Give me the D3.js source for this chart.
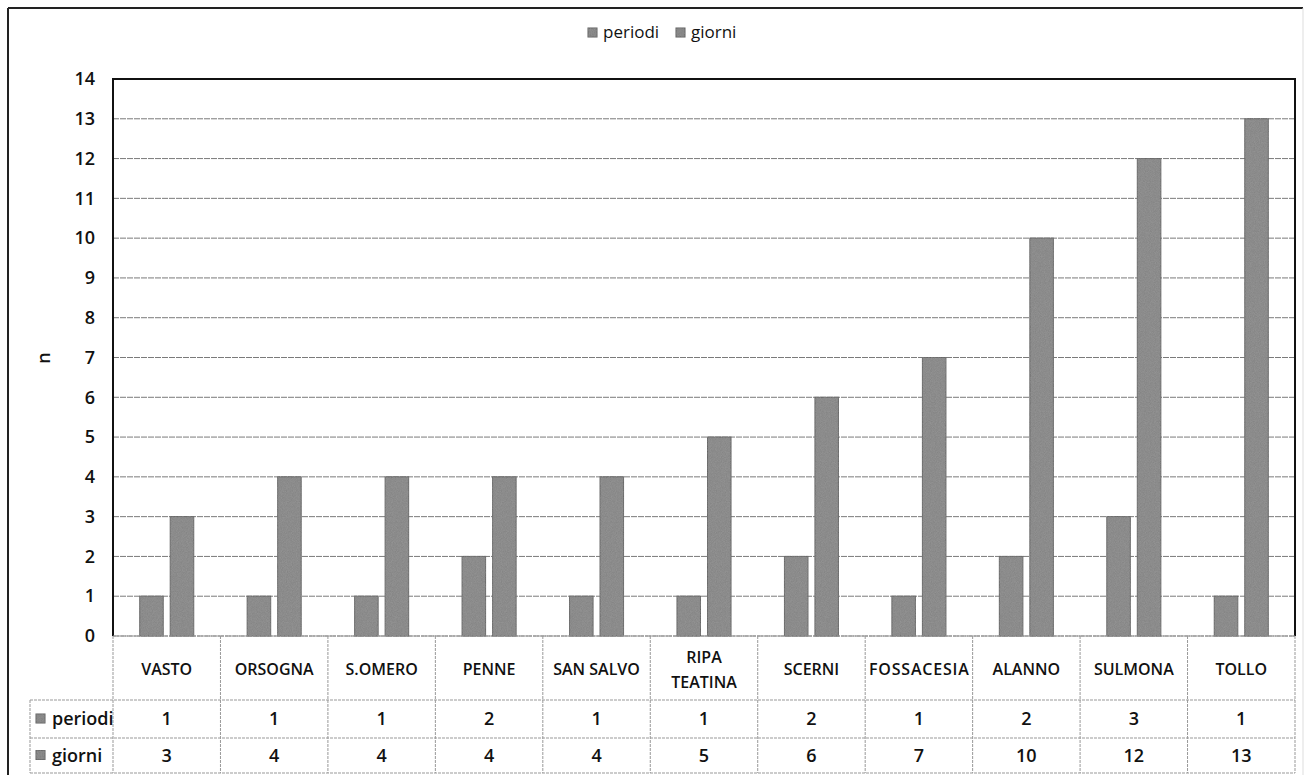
<!DOCTYPE html>
<html>
<head>
<meta charset="utf-8">
<script src="https://cdn.jsdelivr.net/npm/d3@7"></script>
<style>
  body { margin: 0; background: white; }
  text { font-family: "Open Sans", sans-serif; fill: #111; }
</style>
</head>
<body>
<div id="container"></div>
<script>
let w = 1306;
let h = 775;

// data
let categories = ["VASTO", "ORSOGNA", "S.OMERO", "PENNE", "SAN SALVO", "RIPA TEATINA", "SCERNI", "FOSSACESIA", "ALANNO", "SULMONA", "TOLLO"];
let periodi = [1, 1, 1, 2, 1, 1, 2, 1, 2, 3, 1];
let giorni = [3, 4, 4, 4, 4, 5, 6, 7, 10, 12, 13];
let seriesNames = ["periodi", "giorni"];
let yTicks = d3.range(0, 15);

let plotLeft = 113, plotRight = 1295, plotTop = 79, plotBottom = 636;
let rowCat = 700, rowP = 738, rowG = 773; // table row bottoms
let headerLeft = 30;

let viz = d3.select("#container")
  .append("svg")
    .attr("width", w)
    .attr("height", h)
    .style("background-color", "white");

// grainy texture for the scanned look
let defs = viz.append("defs");
let f = defs.append("filter").attr("id", "grain");
f.append("feTurbulence").attr("type", "fractalNoise").attr("baseFrequency", 1.2).attr("numOctaves", 1).attr("result", "noise");
f.append("feColorMatrix").attr("in", "noise").attr("type", "matrix")
  .attr("values", "0 0 0 0 0.45  0 0 0 0 0.45  0 0 0 0 0.45  0 0 0 0.4 0").attr("result", "n2");
f.append("feComposite").attr("in", "n2").attr("in2", "SourceGraphic").attr("operator", "in").attr("result", "n3");
f.append("feMerge").call(m => { m.append("feMergeNode").attr("in", "SourceGraphic"); m.append("feMergeNode").attr("in", "n3"); });

// outer frame
viz.append("line").attr("x1", 8).attr("y1", 8).attr("x2", 1303).attr("y2", 8).attr("stroke", "#222").attr("stroke-width", 2);
viz.append("line").attr("x1", 8).attr("y1", 8).attr("x2", 8).attr("y2", h).attr("stroke", "#222").attr("stroke-width", 2);
viz.append("line").attr("x1", 1303).attr("y1", 8).attr("x2", 1303).attr("y2", h).attr("stroke", "#ddd").attr("stroke-width", 1);

let x = d3.scaleBand().domain(categories).range([plotLeft, plotRight]);
let sub = d3.scaleBand().domain(seriesNames).range([-27, 27]).paddingInner(0.23);
let y = d3.scaleLinear().domain([0, 14]).range([plotBottom, plotTop]);

// gridlines
viz.append("g").selectAll("line")
  .data(yTicks.filter(d => d < 14))
  .enter().append("line")
    .attr("x1", plotLeft).attr("x2", plotRight)
    .attr("y1", d => y(d)).attr("y2", d => y(d))
    .attr("stroke", "#7a7a7a").attr("stroke-width", 1)
    .attr("stroke-dasharray", "6,1");

// y axis labels
let yAxis = d3.axisLeft(y).tickValues(yTicks).tickSize(0).tickPadding(18).tickFormat(d3.format("d"));
viz.append("g")
  .attr("transform", "translate(" + plotLeft + ",0)")
  .call(yAxis)
  .call(g => g.select(".domain").remove())
  .selectAll("text")
    .style("font-family", "'Open Sans', sans-serif")
    .style("font-size", "18px")
    .style("font-weight", 600)
    .attr("fill", "#111");

viz.append("text")
  .attr("transform", "translate(44,358) rotate(-90)")
  .attr("text-anchor", "middle")
  .attr("dy", "0.35em")
  .style("font-size", "18px")
  .style("font-weight", 600)
  .text("n");

// bars
let rows = categories.map((c, i) => ({cat: c, periodi: periodi[i], giorni: giorni[i]}));
let groups = viz.append("g").selectAll("g")
  .data(rows)
  .enter().append("g")
    .attr("transform", d => "translate(" + (x(d.cat) + x.bandwidth() / 2) + ",0)");

groups.selectAll("rect")
  .data(d => seriesNames.map(s => ({s: s, v: d[s]})))
  .enter().append("rect")
    .attr("x", d => sub(d.s))
    .attr("width", sub.bandwidth())
    .attr("y", d => y(d.v))
    .attr("height", d => y(0) - y(d.v))
    .attr("fill", "#808080")
    .attr("stroke", "#555")
    .attr("stroke-width", 1)
    .attr("filter", "url(#grain)");

// plot border
viz.append("path")
  .attr("d", "M" + plotLeft + "," + plotBottom + "V" + plotTop + "H" + plotRight + "V" + plotBottom)
  .attr("fill", "none").attr("stroke", "#111").attr("stroke-width", 2);

// data table
let tbl = viz.append("g").attr("stroke", "#999").attr("stroke-width", 1).attr("stroke-dasharray", "3,1");
tbl.append("line").attr("x1", plotLeft).attr("x2", plotRight).attr("y1", plotBottom).attr("y2", plotBottom);
tbl.append("line").attr("x1", headerLeft).attr("x2", plotRight).attr("y1", rowCat).attr("y2", rowCat);
tbl.append("line").attr("x1", headerLeft).attr("x2", plotRight).attr("y1", rowP).attr("y2", rowP);
tbl.append("line").attr("x1", headerLeft).attr("x2", plotRight).attr("y1", rowG).attr("y2", rowG);
tbl.append("line").attr("x1", headerLeft).attr("x2", headerLeft).attr("y1", rowCat).attr("y2", rowG);
tbl.selectAll(".vline")
  .data(categories.concat(["end"]))
  .enter().append("line")
    .attr("x1", d => d == "end" ? plotRight : x(d))
    .attr("x2", d => d == "end" ? plotRight : x(d))
    .attr("y1", plotBottom).attr("y2", rowG);

// category labels
viz.append("g").selectAll("text")
  .data(categories)
  .enter().append("text")
    .attr("x", d => x(d) + x.bandwidth() / 2)
    .attr("text-anchor", "middle")
    .style("font-size", "16px")
    .style("font-weight", 600)
    .attr("textLength", d => d == "FOSSACESIA" ? 100 : null)
    .each(function(d) {
      let words = d == "RIPA TEATINA" ? ["RIPA", "TEATINA"] : [d];
      let t = d3.select(this);
      let y0 = words.length == 1 ? 675 : 663;
      words.forEach((wd, i) => {
        t.append("tspan").attr("x", x(d) + x.bandwidth() / 2).attr("y", y0 + i * 25).text(wd);
      });
    });

// values rows
let valueRows = [{name: "periodi", vals: periodi, yc: (rowCat + rowP) / 2}, {name: "giorni", vals: giorni, yc: (rowP + rowG) / 2}];
valueRows.forEach(r => {
  viz.append("g").selectAll("text")
    .data(r.vals)
    .enter().append("text")
      .attr("x", (d, i) => x(categories[i]) + x.bandwidth() / 2)
      .attr("y", r.yc)
      .attr("dy", "0.36em")
      .attr("text-anchor", "middle")
      .style("font-size", "18px")
      .style("font-weight", 600)
      .text(d => d);
  viz.append("rect")
    .attr("x", headerLeft + 6).attr("y", r.yc - 5).attr("width", 9).attr("height", 9)
    .attr("fill", "#7a7a7a").attr("stroke", "#555").attr("filter", "url(#grain)");
  viz.append("text")
    .attr("x", headerLeft + 22).attr("y", r.yc).attr("dy", "0.36em")
    .style("font-size", "18px")
    .style("font-weight", 600)
    .text(r.name);
});

// legend
let legend = viz.append("g").attr("transform", "translate(588,28)");
let lx = [0, 88];
seriesNames.forEach((s, i) => {
  legend.append("rect").attr("x", lx[i]).attr("y", 0).attr("width", 9).attr("height", 9)
    .attr("fill", "#7a7a7a").attr("stroke", "#555").attr("filter", "url(#grain)");
  legend.append("text").attr("x", lx[i] + 15).attr("y", 10)
    .style("font-size", "17px")
    .text(s);
});
</script>
</body>
</html>
